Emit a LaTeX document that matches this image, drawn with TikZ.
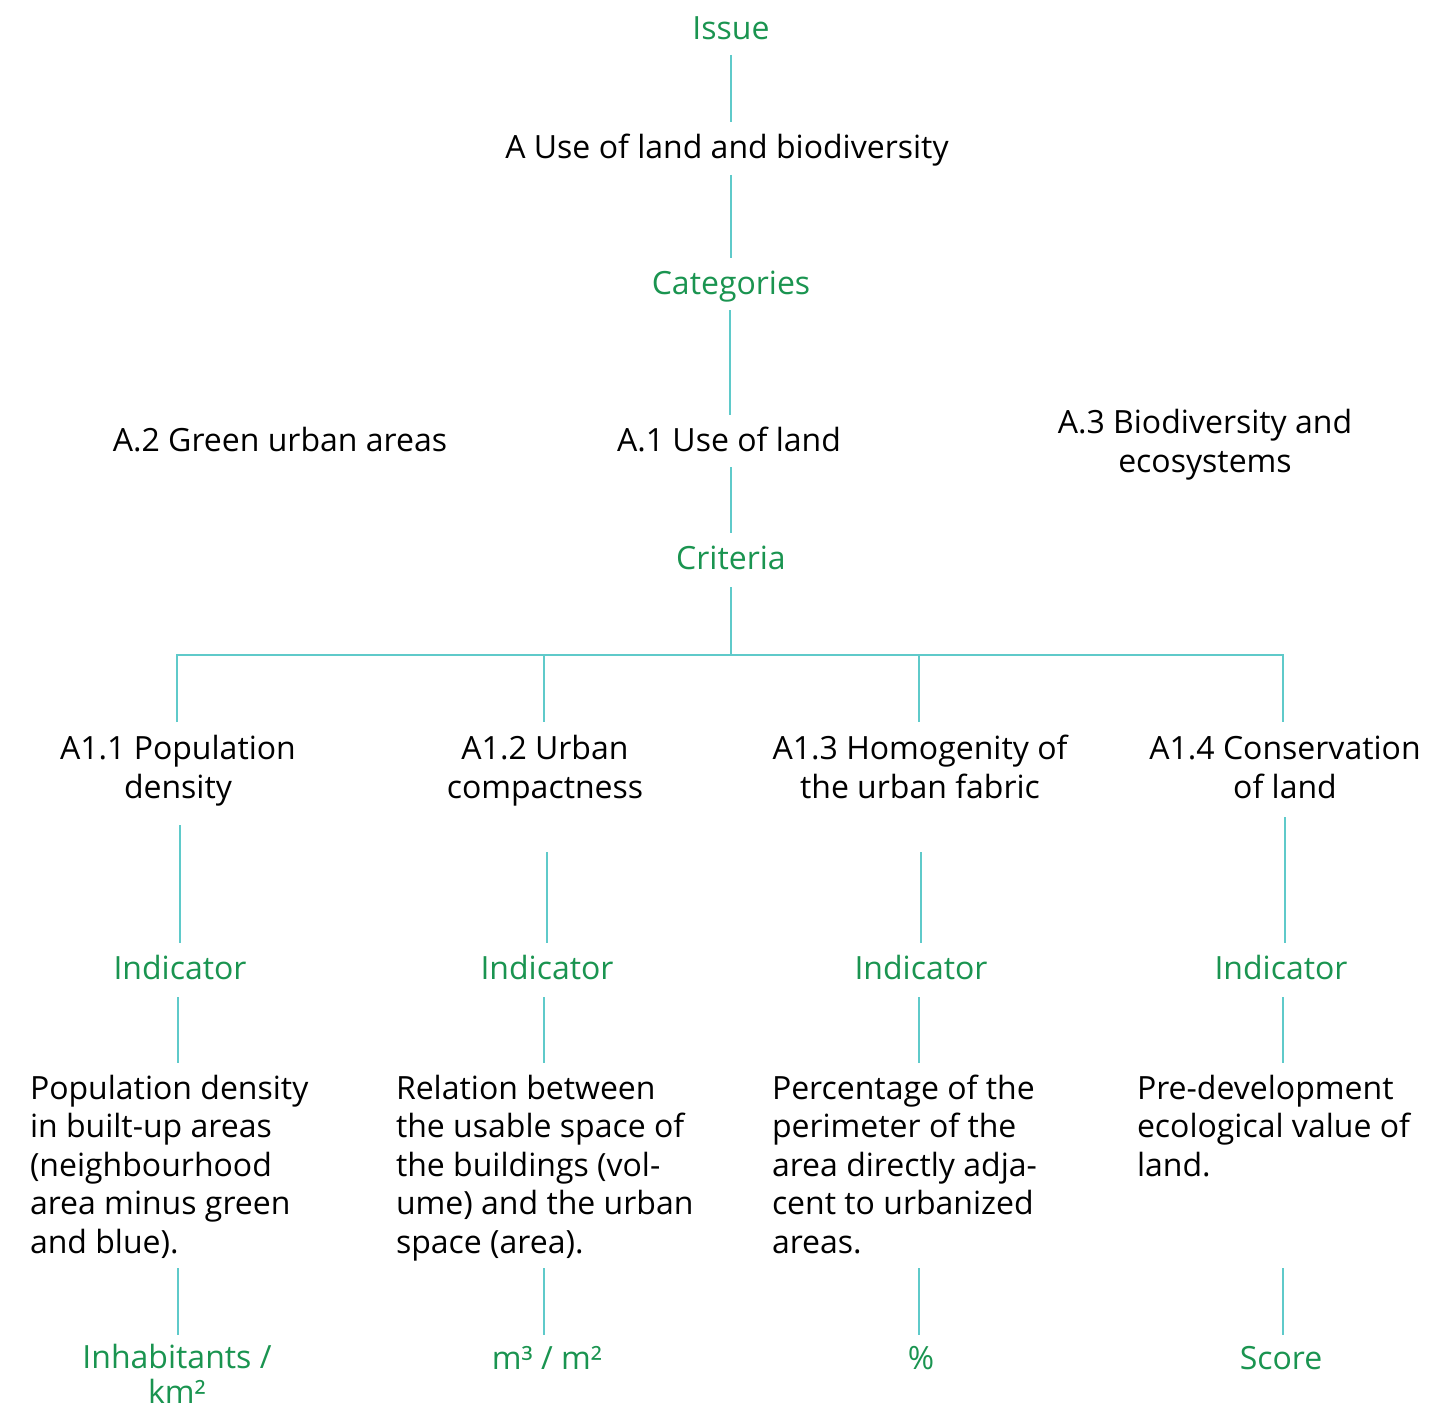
\documentclass[tikz,border=0pt]{standalone}
\usepackage{fontspec}
\setmainfont{Open Sans}
\definecolor{tgreen}{HTML}{1A9450}
\definecolor{tline}{HTML}{5FCACA}
\begin{document}
\begin{tikzpicture}[x=1pt,y=-1pt,
  every node/.style={inner sep=0pt,outer sep=0pt,font=\fontsize{32}{38.5}\selectfont},
  lbl/.style={text=tgreen,anchor=base},
  itm/.style={text=black,anchor=base,align=center},
  para/.style={text=black,anchor=base west,align=left},
  conn/.style={draw=tline,line width=2.6pt}]
\useasboundingbox (0,0) rectangle (1455,1407);
% headings (multi-line nodes are placed by the baseline of their last line)
\node[lbl] (issue) at (731,40) {Issue};
\node[itm] (A) at (727,159) {A Use of land and biodiversity};
\node[lbl] (cat) at (731,294) {Categories};
\node[itm] (A1) at (729,451) {A.1 Use of land};
\node[itm] (A2) at (280,451) {A.2 Green urban areas};
\node[itm] (A3) at (1205,472) {A.3 Biodiversity and\\ecosystems};
\node[lbl] (crit) at (731,569) {Criteria};
% criteria
\node[itm] (c1) at (178,798) {A1.1 Population\\density};
\node[itm] (c2) at (545,798) {A1.2 Urban\\compactness};
\node[itm] (c3) at (920,798) {A1.3 Homogenity of\\the urban fabric};
\node[itm] (c4) at (1285,798) {A1.4 Conservation\\of land};
% indicators
\node[lbl] (i1) at (180,979) {Indicator};
\node[lbl] (i2) at (547,979) {Indicator};
\node[lbl] (i3) at (921,979) {Indicator};
\node[lbl] (i4) at (1281,979) {Indicator};
% descriptions
\node[para] (d1) at (30,1253) {Population density\\in built-up areas\\(neighbourhood\\area minus green\\and blue).};
\node[para] (d2) at (396,1253) {Relation between\\the usable space of\\the buildings (vol-\\ume) and the urban\\space (area).};
\node[para] (d3) at (772,1253) {Percentage of the\\perimeter of the\\area directly adja-\\cent to urbanized\\areas.};
\node[para] (d4) at (1137,1176) {Pre-development\\ecological value of\\land.};
% units
\node[lbl,align=center,font=\fontsize{32}{35}\selectfont] (u1) at (177,1403) {Inhabitants /\\km²};
\node[lbl] (u2) at (547,1369) {m³ / m²};
\node[lbl] (u3) at (921,1369) {\%};
\node[lbl] (u4) at (1281,1369) {Score};
% connector end points
\coordinate (p1a) at (731,55);   \coordinate (p1b) at (731,122);
\coordinate (p2a) at (731,175);  \coordinate (p2b) at (731,258);
\coordinate (p3a) at (730,310);  \coordinate (p3b) at (730,415);
\coordinate (p4a) at (731,467);  \coordinate (p4b) at (731,533);
\coordinate (p5a) at (731,587);  \coordinate (bus) at (731,655);
\coordinate (bL) at (177,655);   \coordinate (bR) at (1283,655);
\coordinate (b2) at (544,655);   \coordinate (b3) at (919,655);
\coordinate (t1) at (177,722);   \coordinate (t2) at (544,722);
\coordinate (t3) at (919,722);   \coordinate (t4) at (1283,722);
\coordinate (e1a) at (180,825);  \coordinate (e1b) at (180,943);
\coordinate (e2a) at (547,852);  \coordinate (e2b) at (547,943);
\coordinate (e3a) at (921,852);  \coordinate (e3b) at (921,943);
\coordinate (e4a) at (1285,817); \coordinate (e4b) at (1285,943);
\coordinate (f1a) at (178,997);  \coordinate (f1b) at (178,1063);
\coordinate (f2a) at (544,997);  \coordinate (f2b) at (544,1063);
\coordinate (f3a) at (919,997);  \coordinate (f3b) at (919,1063);
\coordinate (f4a) at (1283,997); \coordinate (f4b) at (1283,1063);
\coordinate (g1a) at (178,1268); \coordinate (g1b) at (178,1335);
\coordinate (g2a) at (544,1268); \coordinate (g2b) at (544,1335);
\coordinate (g3a) at (919,1268); \coordinate (g3b) at (919,1335);
\coordinate (g4a) at (1283,1268);\coordinate (g4b) at (1283,1335);
% connectors
\draw[conn] (p1a) -- (p1b);
\draw[conn] (p2a) -- (p2b);
\draw[conn] (p3a) -- (p3b);
\draw[conn] (p4a) -- (p4b);
\draw[conn] (p5a) -- (bus);
\draw[conn] (t1) -- (bL) -- (bR) -- (t4);
\draw[conn] (b2) -- (t2);
\draw[conn] (b3) -- (t3);
\foreach \k in {1,2,3,4}{
  \draw[conn] (e\k a) -- (e\k b);
  \draw[conn] (f\k a) -- (f\k b);
  \draw[conn] (g\k a) -- (g\k b);
}
\end{tikzpicture}
\end{document}
